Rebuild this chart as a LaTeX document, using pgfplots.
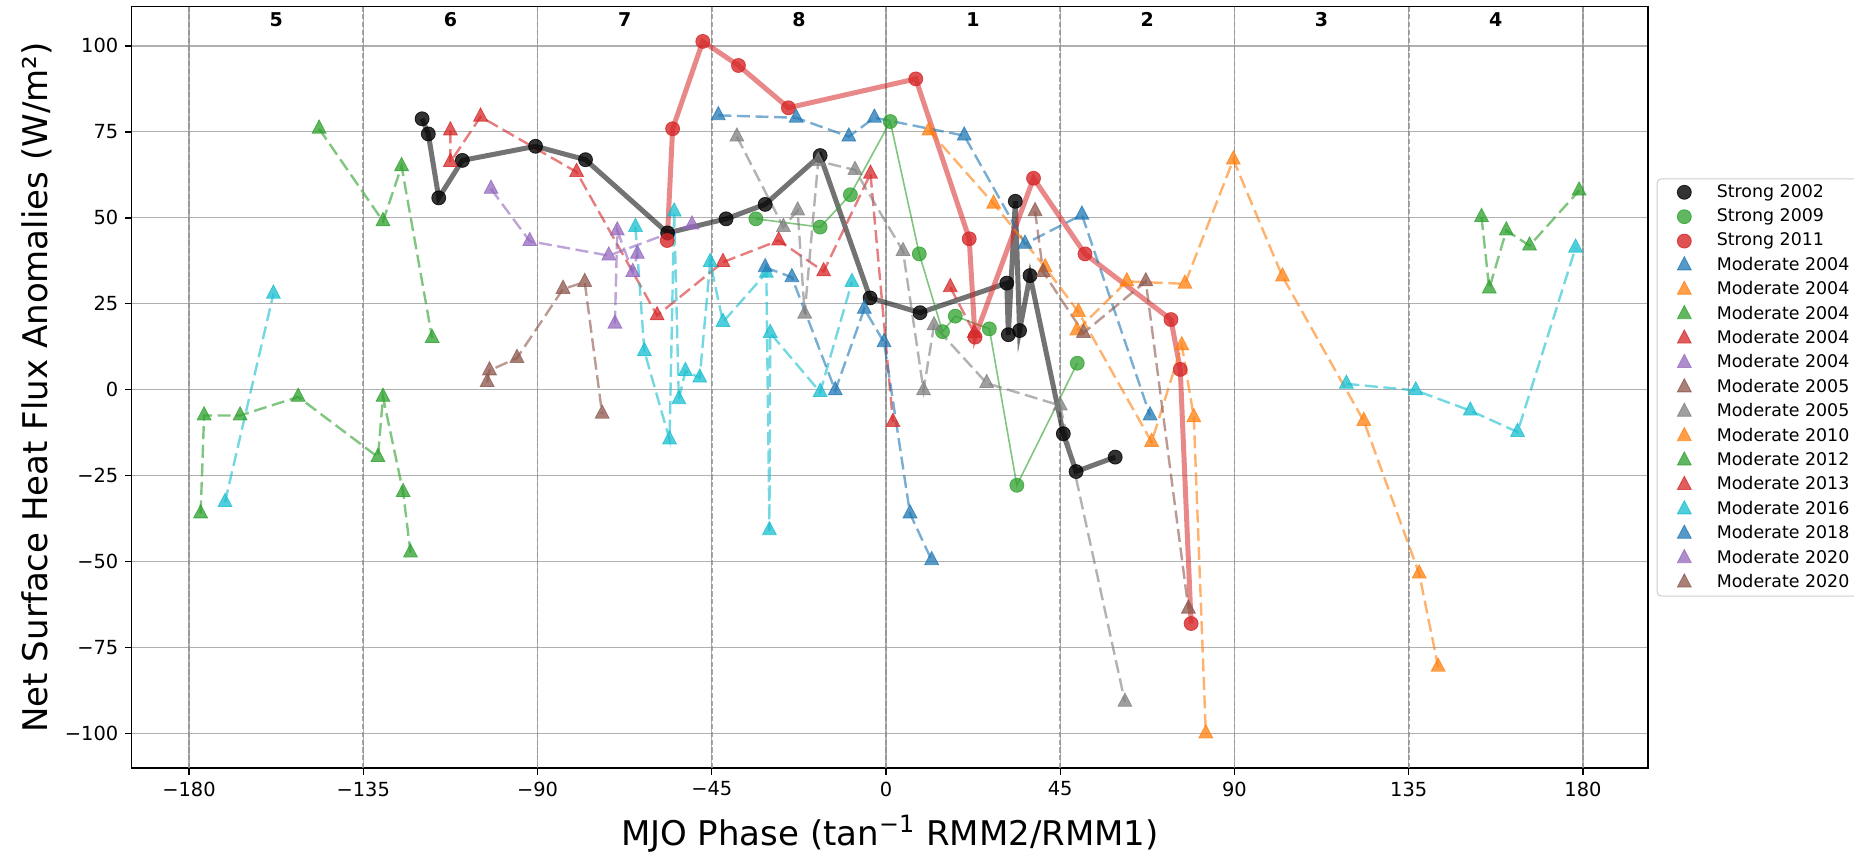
\documentclass[border=0pt]{standalone}
\usepackage{fontspec}
\setmainfont{DejaVu Sans}
\usepackage{pgfplots}
\pgfplotsset{compat=1.18}
\definecolor{tabblue}{HTML}{1F77B4}
\definecolor{taborange}{HTML}{FF7F0E}
\definecolor{tabgreen}{HTML}{2CA02C}
\definecolor{tabred}{HTML}{D62728}
\definecolor{tabpurple}{HTML}{9467BD}
\definecolor{tabbrown}{HTML}{8C564B}
\definecolor{tabgray}{HTML}{7F7F7F}
\definecolor{tabcyan}{HTML}{17BECF}
\definecolor{gridgray}{HTML}{B0B0B0}
\pgfplotsset{
  strong/.style={color=#1, mark=*, line width=2.5pt, draw opacity=0.55, mark size=3.5pt,
    mark options={solid, line width=0.4pt, draw opacity=0.8, fill opacity=0.8}},
  strongthin/.style={color=#1, mark=*, line width=0.8pt, draw opacity=0.6, mark size=3.5pt,
    mark options={solid, line width=0.4pt, draw opacity=0.75, fill opacity=0.75}},
  moder/.style={color=#1, mark=triangle*, line width=1.2pt, dash pattern=on 6.5pt off 2.8pt,
    draw opacity=0.6, mark size=4pt,
    mark options={solid, line width=0.4pt, draw opacity=0.75, fill opacity=0.75, yscale=1.1}},
}
\begin{document}
\begin{tikzpicture}
\begin{axis}[
  at={(0,0)}, anchor=south west,
  scale only axis,
  width=758.2pt, height=380.8pt,
  xmin=-194.8, xmax=196.8, ymin=-110.1, ymax=111.4,
  xtick={-180,-135,-90,-45,0,45,90,135,180},
  xticklabels={−180,−135,−90,−45,0,45,90,135,180},
  ytick={-100,-75,-50,-25,0,25,50,75,100},
  yticklabels={−100,−75,−50,−25,0,25,50,75,100},
  tick label style={font=\fontsize{9.7}{11}\selectfont},
  tick align=outside, tick pos=left, major tick length=3.2pt,
  tick style={line width=0.7pt, black},
  ymajorgrids, xmajorgrids,
  grid style={gridgray, line width=0.65pt},
  axis line style={line width=0.8pt},
  xlabel={MJO Phase (tan\textsuperscript{−1} RMM2/RMM1)},
  ylabel={Net Surface Heat Flux Anomalies (W/m²)},
  label style={font=\fontsize{17}{20}\selectfont},
  xlabel style={at={(axis description cs:0.5,-0.0859)}, anchor=center},
  ylabel style={at={(axis description cs:-0.0627,0.5)}, anchor=center, rotate=0},
  unbounded coords=jump,
  legend style={at={(1,0.5)}, xshift=4.35pt, anchor=west,
    font=\fontsize{8.7}{10}\selectfont, draw=black!20, line width=0.5pt, rounded corners=2pt,
    inner xsep=4.3pt, inner ysep=0.6pt, column sep=7pt,
    nodes={inner xsep=0pt, inner ysep=1.5pt, text height=7pt, text depth=2.2pt}},
  legend cell align=left,
  legend image code/.code={\path (0pt,0pt) (16pt,0pt); \draw[#1] plot coordinates {(8pt,0pt)};},
]
% vertical phase lines
\foreach \xx in {-180,-135,-90,-45,0,45,90,135,180}{
  \edef\tmp{\noexpand\draw[gray!85, line width=0.9pt, dash pattern=on 2.6pt off 1.3pt, opacity=0.8] (axis cs:\xx,-110.1) -- (axis cs:\xx,111.4);}
  \tmp
}
% phase labels
\foreach \xx/\ph in {-157.5/5,-112.5/6,-67.5/7,-22.5/8,22.5/1,67.5/2,112.5/3,157.5/4}{
  \edef\tmp{\noexpand\node[font=\noexpand\bfseries\noexpand\fontsize{9.5}{11}\noexpand\selectfont] at (axis cs:\xx,107.6) {\ph};}
  \tmp
}

% Strong 2002
\addplot[strong=black] coordinates {
(-119.8,78.8) (-118.2,74.4) (-115.5,55.8) (-109.4,66.7) (-90.5,70.8) (-77.6,66.9)
(-56.4,45.6) (-41.3,49.7) (-31.2,53.9) (-17.0,68.1) (-4.1,26.7) (8.8,22.4)
(31.2,31.0) (31.6,16.0) (33.4,54.8) (34.5,17.2) (37.2,33.2) (45.8,-12.8)
(49.1,-23.8) (59.2,-19.6)};
\addlegendentry{Strong 2002}
% Strong 2009
\addplot[strongthin=tabgreen] coordinates {
(-33.6,49.7) (-17.0,47.3) (-9.2,56.7) (1.1,78.0) (8.6,39.5) (14.6,16.9)
(17.9,21.4) (26.7,17.7) (33.8,-27.8) (49.4,7.7)};
\addlegendentry{Strong 2009}
% Strong 2011
\addplot[strong=tabred] coordinates {
(-56.5,43.4) (-55.1,75.9) (-47.3,101.3) (-38.1,94.3) (-25.2,82.0) (7.7,90.4)
(21.5,43.9) (23.0,15.3) (38.1,61.5) (51.4,39.5) (73.6,20.4) (76.0,5.9) (78.8,-68.0)};
\addlegendentry{Strong 2011}
% Moderate 2004 blue
\addplot[moder=tabblue] coordinates {
(-43.3,79.8) (-23.2,79.1) (-9.6,73.6) (-3.0,79.1) (20.2,73.9) (35.9,42.4) (50.6,50.9) (68.2,-7.5)};
\addlegendentry{Moderate 2004}
% Moderate 2004 orange
\addplot[moder=taborange] coordinates {
(11.1,75.4) (27.8,54.1) (41.1,35.6) (49.7,22.6) (68.6,-15.2) (76.4,12.9) (79.5,-8.0) (82.6,-100.0)};
\addlegendentry{Moderate 2004}
% Moderate 2004 green
\addplot[moder=tabgreen] coordinates {
(-146.4,75.9) (-129.9,49.0) (-125.1,65.0) (-117.2,15.0)};
\addlegendentry{Moderate 2004}
% Moderate 2004 red
\addplot[moder=tabred] coordinates {
(-112.5,75.4) (-112.5,66.2) (-104.7,79.4) (-79.9,63.3) (-59.1,21.6) (-42.1,37.1)
(-27.7,43.4) (-16.1,34.4) (-4.0,62.8) (1.8,-9.4)};
\addlegendentry{Moderate 2004}
% Moderate 2004 purple
\addplot[moder=tabpurple] coordinates {
(-102.0,58.4) (-92.0,43.2) (-71.6,39.0) (-50.1,48.0)};
\addlegendentry{Moderate 2004}
% Moderate 2005 brown
\addplot[moder=tabbrown] coordinates {
(-103.0,2.2) (-102.4,5.6) (-95.3,9.2) (-83.4,29.3) (-77.8,31.3) (-73.3,-7.0)};
\addlegendentry{Moderate 2005}
% Moderate 2005 gray
\addplot[moder=tabgray] coordinates {
(-38.5,73.6) (-26.5,47.3) (-22.8,52.1) (-21.0,22.1) (-17.5,66.5) (-8.0,63.9) (4.4,40.3)
(9.7,-0.2) (12.4,18.7) (26.0,1.9) (45.0,-4.6) (61.7,-90.8)};
\addlegendentry{Moderate 2005}
% Moderate 2010 orange
\addplot[moder=taborange] coordinates {
(49.3,17.2) (62.2,31.5) (77.2,30.8) (89.7,66.9) (102.4,32.9) (123.4,-9.1) (137.7,-53.5) (142.6,-80.6)};
\addlegendentry{Moderate 2010}
% Moderate 2012 green
\addplot[moder=tabgreen] coordinates {
(153.8,50.2) (155.8,29.4) (160.2,46.3) (166.2,41.9) (179.0,57.9) (nan,nan)
(-177.0,-36.0) (-176.1,-7.5) (-166.8,-7.5) (-151.8,-2.1) (-131.2,-19.6) (-129.9,-2.1)
(-124.7,-29.8) (-122.8,-47.4)};
\addlegendentry{Moderate 2012}
% Moderate 2013 red
\addplot[moder=tabred] coordinates {
(16.6,29.8) (22.8,16.5)};
\addlegendentry{Moderate 2013}
% Moderate 2016 cyan
\addplot[moder=tabcyan] coordinates {
(118.9,1.7) (136.8,-0.2) (150.9,-6.1) (163.1,-12.3) (178.1,41.3) (nan,nan)
(-170.7,-32.7) (-158.2,27.9) (nan,nan)
(-64.7,47.3) (-62.4,11.2) (-55.9,-14.5) (-54.7,51.8) (-53.5,-2.8) (-51.8,5.4) (-48.1,3.5)
(-45.4,37.1) (-42.1,19.7) (-30.9,34.0) (-30.1,-40.9) (-29.9,16.5) (-17.0,-0.7) (-8.8,31.3)};
\addlegendentry{Moderate 2016}
% Moderate 2018 blue
\addplot[moder=tabblue] coordinates {
(-31.2,35.6) (-24.3,32.7) (-13.1,-0.2) (-5.6,23.5) (-0.5,13.8) (6.2,-36.0) (11.8,-49.6)};
\addlegendentry{Moderate 2018}
% Moderate 2020 purple
\addplot[moder=tabpurple] coordinates {
(-70.0,19.2) (-69.4,46.3) (-65.4,34.2) (-64.2,39.5)};
\addlegendentry{Moderate 2020}
% Moderate 2020 brown
\addplot[moder=tabbrown] coordinates {
(38.5,51.9) (40.6,34.2) (51.0,16.5) (67.1,31.5) (78.1,-63.7)};
\addlegendentry{Moderate 2020}
\end{axis}
\pgfresetboundingbox
\path[use as bounding box] (-65.85pt,-42.35pt) rectangle (861.2pt,384.15pt);
\end{tikzpicture}
\end{document}
